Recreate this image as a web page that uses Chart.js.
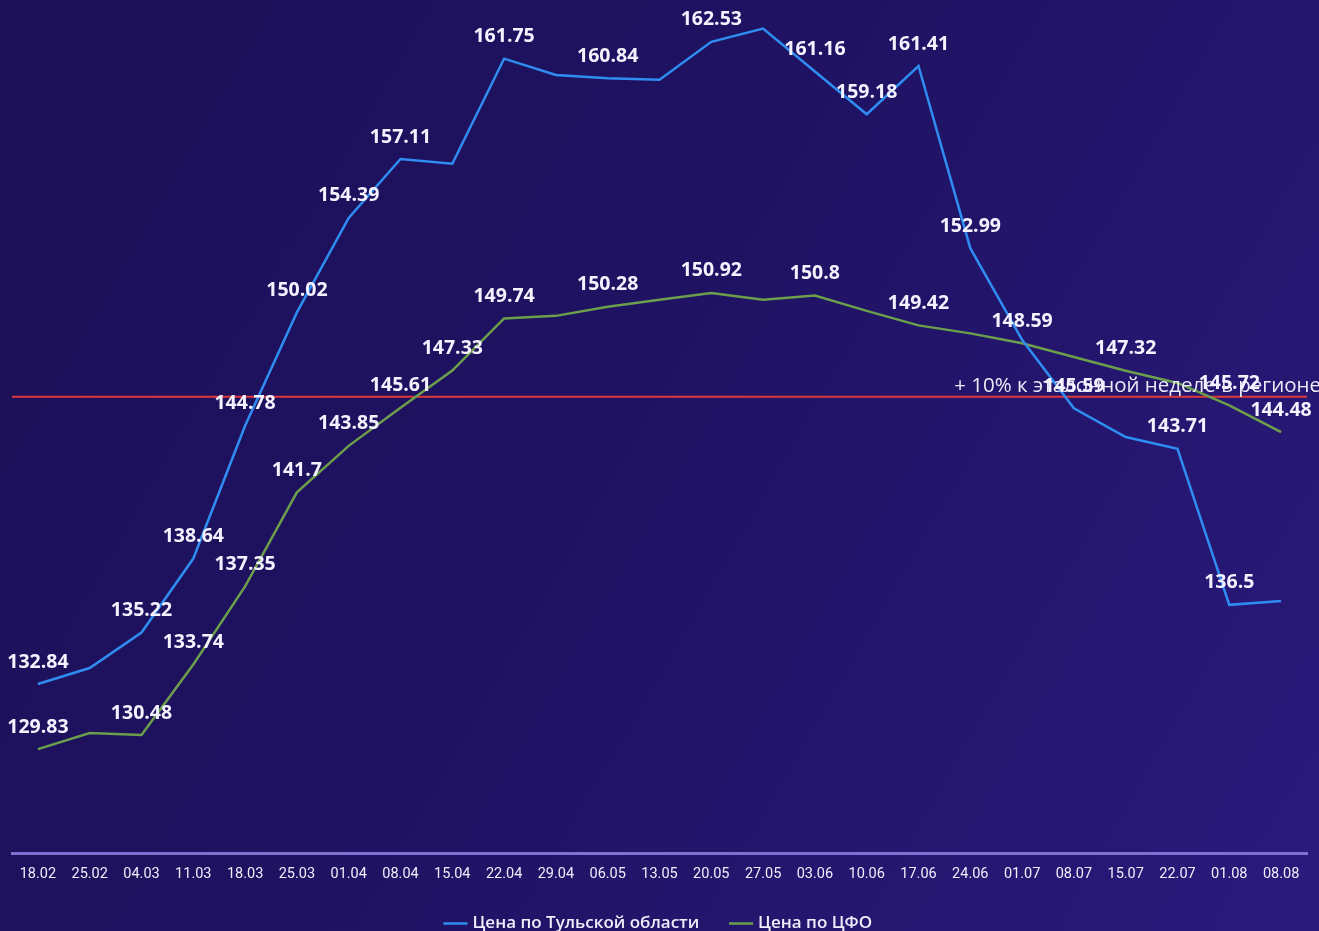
<!DOCTYPE html>
<html>
<head>
<meta charset="utf-8">
<script src="https://cdn.jsdelivr.net/npm/chart.js@4"></script>
<style>
    html, body { margin: 0; padding: 0; overflow: hidden; }
    body {
        width: 1319px; height: 931px;
        background: linear-gradient(120deg, #1c1057 0%, #1f1262 45%, #2a1a7c 100%);
    }
    #wrap { position: relative; width: 1319px; height: 942px; }
</style>
</head>
<body>
<div id="wrap"><canvas id="priceChart"></canvas></div>
<script>
const weeks = ['18.02', '25.02', '04.03', '11.03', '18.03', '25.03', '01.04', '08.04', '15.04', '22.04',
    '29.04', '06.05', '13.05', '20.05', '27.05', '03.06', '10.06', '17.06', '24.06', '01.07',
    '08.07', '15.07', '22.07', '01.08', '08.08'];

const tulaPrice = [132.84, 133.58, 135.22, 138.64, 144.78, 150.02, 154.39, 157.11, 156.89, 161.75,
    161.0, 160.84, 160.78, 162.53, 163.14, 161.16, 159.18, 161.41, 152.99, 148.75,
    145.59, 144.26, 143.71, 136.5, 136.68];

const cfoPrice = [129.83, 130.57, 130.48, 133.74, 137.35, 141.7, 143.85, 145.61, 147.33, 149.74,
    149.86, 150.28, 150.6, 150.92, 150.6, 150.8, 150.09, 149.42, 149.05, 148.59,
    147.96, 147.32, 146.76, 145.72, 144.48];

// which points got a visible value label in the original
const tulaLabeled = [0, 2, 3, 4, 5, 6, 7, 9, 11, 13, 15, 16, 17, 18, 20, 22, 23];
const cfoLabeled = [0, 2, 3, 4, 5, 6, 7, 8, 9, 11, 13, 15, 17, 19, 21, 23, 24];

const thresholdValue = 146.12;
const thresholdText = '+ 10% к эталонной неделе в регионе';

const thresholdLine = {
    id: 'thresholdLine',
    beforeDatasetsDraw(chart) {
        const ctx = chart.ctx;
        const area = chart.chartArea;
        const y = chart.scales.y.getPixelForValue(thresholdValue);
        ctx.save();
        ctx.strokeStyle = '#e0383a';
        ctx.lineWidth = 2;
        ctx.beginPath();
        ctx.moveTo(area.left, y);
        ctx.lineTo(area.right, y);
        ctx.stroke();
        ctx.restore();
    },
    afterDatasetsDraw(chart) {
        const ctx = chart.ctx;
        const y = chart.scales.y.getPixelForValue(thresholdValue);
        ctx.save();
        ctx.font = '20.5px "Open Sans", sans-serif';
        ctx.fillStyle = '#eceaf6';
        ctx.textAlign = 'right';
        ctx.textBaseline = 'alphabetic';
        ctx.fillText(thresholdText, chart.width + 2, y - 5);
        ctx.restore();
    }
};

const valueLabels = {
    id: 'valueLabels',
    afterDatasetsDraw(chart) {
        const ctx = chart.ctx;
        const shown = [tulaLabeled, cfoLabeled];
        ctx.save();
        ctx.font = 'bold 19.5px "Open Sans", sans-serif';
        ctx.fillStyle = '#f4f2ff';
        ctx.textAlign = 'center';
        ctx.textBaseline = 'middle';
        chart.data.datasets.forEach((ds, i) => {
            const meta = chart.getDatasetMeta(i);
            shown[i].forEach(idx => {
                const pt = meta.data[idx];
                ctx.fillText(String(ds.data[idx]), pt.x, pt.y - 22);
            });
        });
        ctx.restore();
    }
};

const ctx = document.getElementById('priceChart').getContext('2d');
new Chart(ctx, {
    type: 'line',
    data: {
        labels: weeks,
        datasets: [
            {
                label: 'Цена по Тульской области',
                data: tulaPrice,
                borderColor: '#2f8df2',
                backgroundColor: '#2f8df2',
                borderWidth: 2.5,
                pointRadius: 0,
                tension: 0
            },
            {
                label: 'Цена по ЦФО',
                data: cfoPrice,
                borderColor: '#6c9f4c',
                backgroundColor: '#6c9f4c',
                borderWidth: 2.5,
                pointRadius: 0,
                tension: 0
            }
        ]
    },
    options: {
        responsive: true,
        maintainAspectRatio: false,
        animation: false,
        layout: { padding: { left: 12, right: 12, top: 10 } },
        plugins: {
            legend: {
                position: 'bottom',
                labels: {
                    color: '#f0eefc',
                    font: { family: '"Open Sans", sans-serif', size: 17, weight: '600' },
                    usePointStyle: true,
                    pointStyle: 'line',
                    boxWidth: 20,
                    padding: 20,
                    generateLabels(chart) {
                        // a bit more room between the two entries
                        const items = Chart.defaults.plugins.legend.labels.generateLabels(chart);
                        items[0].text += '   ';
                        return items;
                    }
                }
            },
            tooltip: { enabled: false }
        },
        scales: {
            x: {
                offset: true,
                grid: { display: false, drawTicks: false },
                border: { color: '#7d72d2', width: 3 },
                ticks: {
                    color: '#eeeefa',
                    font: { family: 'Roboto, sans-serif', size: 14.5 },
                    padding: 12,
                    maxRotation: 0,
                    autoSkip: false
                }
            },
            y: {
                display: false,
                min: 125,
                max: 164
            }
        }
    },
    plugins: [thresholdLine, valueLabels]
});
</script>
</body>
</html>
